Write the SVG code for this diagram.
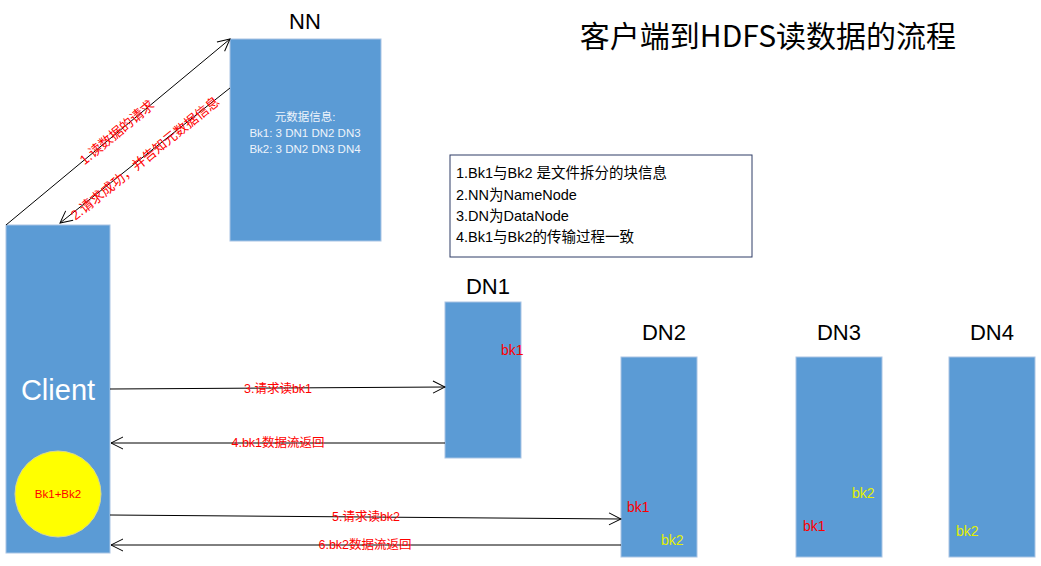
<svg xmlns="http://www.w3.org/2000/svg" width="1041" height="566" viewBox="0 0 1041 566">
<defs>
<marker id="open" markerWidth="14" markerHeight="14" refX="13" refY="7" orient="auto" markerUnits="userSpaceOnUse">
<path d="M1,1 L13,7 L1,13" fill="none" stroke="#000" stroke-width="1"/>
</marker>
<style>
.box{fill:#5b9bd5;stroke:#a9c4e4;stroke-width:1}
.hd{font-family:"Liberation Sans","Noto Sans CJK SC",sans-serif;font-size:22px;fill:#000;text-anchor:middle}
.red{font-family:"Liberation Sans","Noto Sans CJK SC",sans-serif;font-size:12.5px;fill:#ff0000;text-anchor:middle}
.rot{font-family:"Liberation Sans","Noto Sans CJK SC",sans-serif;font-size:13.5px;fill:#ff0000;text-anchor:middle}
.blk{font-family:"Liberation Sans","Noto Sans CJK SC",sans-serif;font-size:14px;fill:#ff0000}
.blk2{font-family:"Liberation Sans","Noto Sans CJK SC",sans-serif;font-size:14px;fill:#e3f000}
.ln{stroke:#000;stroke-width:1;fill:none}
.note{font-family:"Liberation Sans","Noto Sans CJK SC",sans-serif;font-size:14.5px;fill:#000}
</style>
</defs>
<rect width="1041" height="566" fill="#fff"/>
<text x="768" y="47" font-family="'Noto Sans CJK SC',sans-serif" font-size="30" text-anchor="middle" fill="#000">客户端到HDFS读数据的流程</text>

<g id="nn">
<text class="hd" x="305" y="29">NN</text>
<rect class="box" x="230" y="39" width="151" height="202"/>
<g font-family="'Liberation Sans','Noto Sans CJK SC',sans-serif" font-size="11.5" fill="#eef4fb" text-anchor="middle">
<text x="305" y="121">元数据信息:</text>
<text x="305" y="137">Bk1: 3 DN1 DN2 DN3</text>
<text x="305" y="153">Bk2: 3 DN2 DN3 DN4</text>
</g>
</g>

<g id="note">
<rect x="450" y="155" width="302" height="102" fill="#fff" stroke="#2f3d66" stroke-width="1"/>
<text class="note" x="456" y="178">1.Bk1与Bk2 是文件拆分的块信息</text>
<text class="note" x="456" y="200">2.NN为NameNode</text>
<text class="note" x="456" y="221">3.DN为DataNode</text>
<text class="note" x="456" y="242">4.Bk1与Bk2的传输过程一致</text>
</g>

<g id="client">
<rect class="box" x="6" y="225" width="104" height="328"/>
<text x="58" y="400" font-family="'Liberation Sans',sans-serif" font-size="29" fill="#fff" text-anchor="middle">Client</text>
<circle cx="58" cy="494" r="43" fill="#ffff00" stroke="#d8d890" stroke-width="1"/>
<text x="58" y="498" font-family="'Liberation Sans',sans-serif" font-size="11.5" fill="#ff0000" text-anchor="middle">Bk1+Bk2</text>
</g>

<g id="dn1">
<text class="hd" x="488" y="294">DN1</text>
<rect class="box" x="445" y="302" width="76" height="156"/>
<text class="blk" x="501" y="355">bk1</text>
</g>
<g id="dn2">
<text class="hd" x="664" y="340">DN2</text>
<rect class="box" x="621" y="357" width="76" height="200"/>
<text class="blk" x="627" y="512">bk1</text>
<text class="blk2" x="661" y="545">bk2</text>
</g>
<g id="dn3">
<text class="hd" x="839" y="340">DN3</text>
<rect class="box" x="796" y="357" width="86" height="200"/>
<text class="blk2" x="852" y="498">bk2</text>
<text class="blk" x="803" y="531">bk1</text>
</g>
<g id="dn4">
<text class="hd" x="992" y="340">DN4</text>
<rect class="box" x="949" y="357" width="86" height="200"/>
<text class="blk2" x="956" y="536">bk2</text>
</g>

<g id="connectors">
<line class="ln" x1="6" y1="225" x2="230" y2="39" marker-end="url(#open)"/>
<line class="ln" x1="230" y1="88" x2="60" y2="223" marker-end="url(#open)"/>
<line class="ln" x1="110" y1="389" x2="445" y2="387" marker-end="url(#open)"/>
<line class="ln" x1="445" y1="443" x2="111" y2="443" marker-end="url(#open)"/>
<line class="ln" x1="110" y1="515" x2="621" y2="519" marker-end="url(#open)"/>
<line class="ln" x1="621" y1="545" x2="111" y2="545" marker-end="url(#open)"/>
<text class="rot" transform="translate(120,136) rotate(-39.7)">1.读数据的请求</text>
<text class="rot" transform="translate(148,162) rotate(-39)">2.请求成功，并告知元数据信息</text>
<text class="red" x="278" y="393">3.请求读bk1</text>
<text class="red" x="278" y="447">4.bk1数据流返回</text>
<text class="red" x="366" y="521">5.请求读bk2</text>
<text class="red" x="365" y="549">6.bk2数据流返回</text>
</g>
</svg>
